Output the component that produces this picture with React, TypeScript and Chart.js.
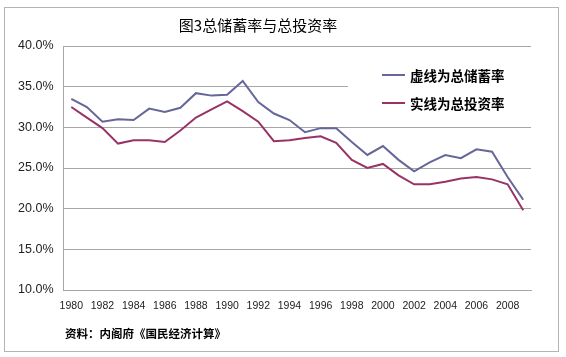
import React, { useEffect, useRef } from "react";
import { Chart, registerables } from "chart.js";

Chart.register(...registerables);

const years: string[] = [
  "1980", "1981", "1982", "1983", "1984", "1985", "1986", "1987", "1988", "1989",
  "1990", "1991", "1992", "1993", "1994", "1995", "1996", "1997", "1998", "1999",
  "2000", "2001", "2002", "2003", "2004", "2005", "2006", "2007", "2008", "2009",
];

// 总储蓄率 (%)
const savingRate: number[] = [
  33.5, 32.5, 30.7, 31.0, 30.9, 32.3, 31.9, 32.4, 34.2, 33.9,
  34.0, 35.7, 33.1, 31.7, 30.9, 29.4, 29.9, 29.9, 28.2, 26.6,
  27.7, 26.0, 24.6, 25.7, 26.6, 26.2, 27.3, 27.0, 23.9, 21.1,
];

// 总投资率 (%)
const investmentRate: number[] = [
  32.5, 31.2, 29.9, 28.0, 28.4, 28.4, 28.2, 29.6, 31.2, 32.2,
  33.2, 32.0, 30.7, 28.3, 28.4, 28.7, 28.9, 28.1, 26.0, 25.0,
  25.5, 24.1, 23.0, 23.0, 23.3, 23.7, 23.9, 23.6, 23.0, 19.8,
];

const yTicks: number[] = [10, 15, 20, 25, 30, 35, 40];

const titleText = "图3总储蓄率与总投资率";
const legendLabels: string[] = ["虚线为总储蓄率", "实线为总投资率"];
const sourceText = "资料：内阁府《国民经济计算》";

const savingColor = "#666699";
const investColor = "#993366";
const gridColor = "#a6a6a6";

const CJK = '"Noto Sans CJK SC", "Noto Sans", sans-serif';

export default function App() {
  const canvasRef = useRef<HTMLCanvasElement | null>(null);

  useEffect(() => {
    const canvas = canvasRef.current;
    if (!canvas) return;

    const decor = {
      id: "decor",
      beforeDatasetsDraw(chart: any) {
        const ctx = chart.ctx as CanvasRenderingContext2D;
        ctx.save();
        // white legend box covering gridlines
        ctx.fillStyle = "#ffffff";
        ctx.fillRect(348, 56, 190, 62);
        ctx.restore();
      },
      afterDraw(chart: any) {
        const ctx = chart.ctx as CanvasRenderingContext2D;
        ctx.save();
        // outer border
        ctx.strokeStyle = "#b4b4b4";
        ctx.lineWidth = 1;
        ctx.strokeRect(4.5, 7.5, 554, 344);

        // title
        ctx.fillStyle = "#000000";
        ctx.font = `15px ${CJK}`;
        ctx.textAlign = "center";
        ctx.textBaseline = "middle";
        ctx.fillText(titleText, 258, 25);

        // legend
        const colors = [savingColor, investColor];
        const ys = [75, 103];
        ctx.textAlign = "left";
        ctx.font = `bold 13.5px ${CJK}`;
        for (let i = 0; i < legendLabels.length; i++) {
          ctx.strokeStyle = colors[i];
          ctx.lineWidth = 2;
          ctx.beginPath();
          ctx.moveTo(382, ys[i]);
          ctx.lineTo(405, ys[i]);
          ctx.stroke();
          ctx.fillStyle = "#000000";
          ctx.fillText(legendLabels[i], 410, ys[i] + 1);
        }

        // source
        ctx.font = `bold 11.5px ${CJK}`;
        ctx.fillText(sourceText, 65, 334);
        ctx.restore();
      },
    };

    const chart = new Chart(canvas, {
      type: "line",
      data: {
        labels: years,
        datasets: [
          {
            label: legendLabels[0],
            data: savingRate,
            borderColor: savingColor,
            backgroundColor: savingColor,
            borderWidth: 2,
            pointRadius: 0,
            tension: 0,
          },
          {
            label: legendLabels[1],
            data: investmentRate,
            borderColor: investColor,
            backgroundColor: investColor,
            borderWidth: 2,
            pointRadius: 0,
            tension: 0,
          },
        ],
      },
      options: {
        animation: false,
        responsive: false,
        maintainAspectRatio: false,
        devicePixelRatio: 1,
        layout: { padding: { left: 0, right: 35, top: 46, bottom: 0 } },
        plugins: {
          legend: { display: false },
          title: { display: false },
          tooltip: { enabled: false },
        },
        scales: {
          x: {
            type: "category",
            offset: true,
            grid: { display: false, drawTicks: false },
            border: { display: true, color: gridColor, width: 1 },
            ticks: {
              autoSkip: false,
              maxRotation: 0,
              minRotation: 0,
              padding: 10,
              color: "#222222",
              font: { family: '"Liberation Sans", Arial, sans-serif', size: 10.5 },
              callback: function (this: any, _v: any, index: number) {
                return index % 2 === 0 ? years[index] : "";
              },
            },
            afterFit(scale: any) {
              scale.height = 67;
            },
          },
          y: {
            type: "linear",
            min: yTicks[0],
            max: yTicks[yTicks.length - 1],
            afterBuildTicks(scale: any) {
              scale.ticks = yTicks.map((v) => ({ value: v }));
            },
            grid: { color: gridColor, lineWidth: 1, drawTicks: false },
            border: { display: true, color: gridColor, width: 1 },
            ticks: {
              padding: 10,
              color: "#222222",
              font: { family: '"Liberation Sans", Arial, sans-serif', size: 12.5 },
              callback: (v: any) => Number(v).toFixed(1) + "%",
            },
            afterFit(scale: any) {
              scale.width = 63.5;
            },
          },
        },
      },
      plugins: [decor],
    });

    return () => {
      chart.destroy();
    };
  }, []);

  return (
    <div style={{ position: "absolute", left: 0, top: 0, width: 566, height: 357, background: "#ffffff" }}>
      <canvas ref={canvasRef} width={566} height={357} style={{ display: "block", width: 566, height: 357 }} />
    </div>
  );
}
